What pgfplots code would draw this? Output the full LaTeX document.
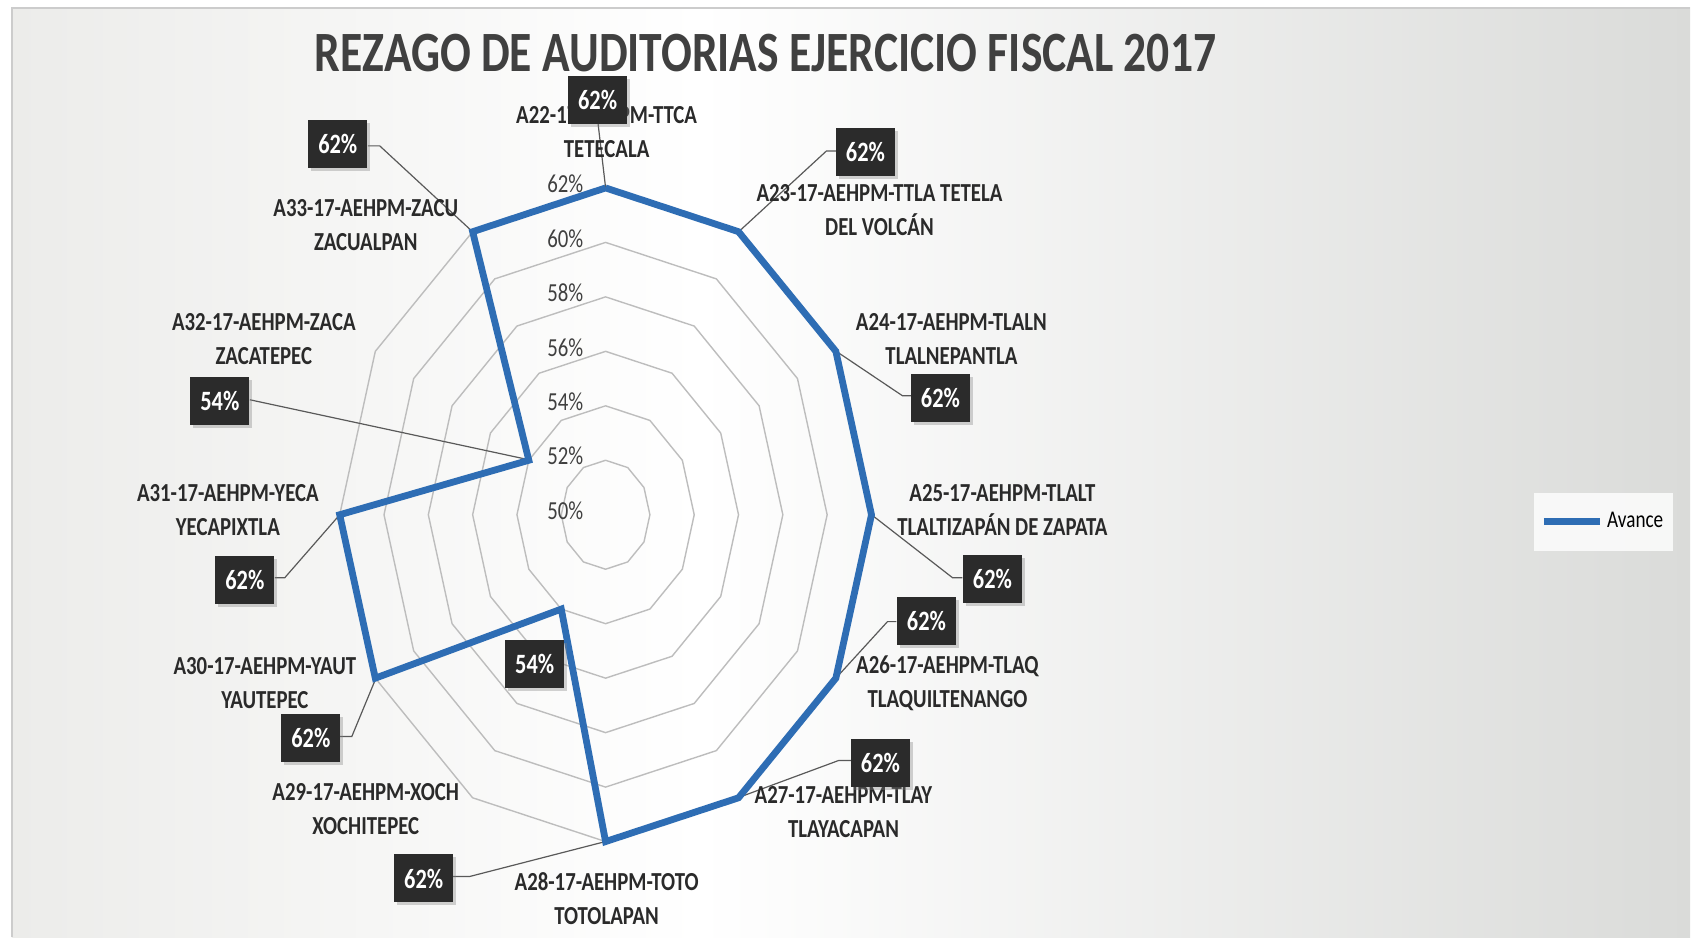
\documentclass[border=0pt]{standalone}
\usepackage{pgfplots}
\pgfplotsset{compat=1.18}
\usepackage{pgfplotstable}
\usepackage{fontspec}
\setmainfont{Carlito}[FakeStretch=0.80]
\usetikzlibrary{shadows}
\definecolor{avblue}{HTML}{2E6DB4}
\definecolor{boxc}{HTML}{2B2B2B}
\definecolor{gridc}{HTML}{BDBDBD}
\definecolor{tickc}{HTML}{404040}
\definecolor{labc}{HTML}{2A2A2A}
\definecolor{titc}{HTML}{404040}
\definecolor{bgl}{HTML}{ECECEA}
\definecolor{bgr}{HTML}{DADBD9}
\newcommand{\PX}[2]{(rel axis cs:{#1/1691},{1-#2/938})}
\tikzset{
  labnode/.style={align=center, text=labc, font=\bfseries\fontsize{13}{17}\selectfont},
  vbox/.style={fill=boxc, text=white, font=\bfseries\fontsize{14}{14}\selectfont,
    minimum width=29.5pt, minimum height=24pt, inner sep=0pt,
    drop shadow={opacity=0.35, shadow xshift=1.5pt, shadow yshift=-1.5pt}},
  lead/.style={draw=gray!70!black, line width=0.6pt},
}
\pgfplotstableread{
ang val
90 62
60 62
30 62
0 62
-30 62
-60 62
-90 62
-120 54
-150 62
-180 62
-210 54
-240 62
-270 62
}\avance
\begin{document}
\begin{tikzpicture}
\begin{axis}[
  scale only axis, width=845.5pt, height=469pt,
  xmin=-27.33, xmax=48.94, ymin=-15.52, ymax=18.90,
  axis lines=none, clip=false,
  legend style={at={(0.9077,0.4435)}, anchor=west, draw=none, fill=white, fill opacity=0.8, text opacity=1,
    font=\fontsize{12}{12}\selectfont, inner xsep=3pt, inner ysep=8pt},
  legend image code/.code={\draw[#1] (0pt,0pt) -- (28pt,0pt);},
]
% background
\fill[white] (rel axis cs:0,0) rectangle (rel axis cs:1,1);
\shade[left color=bgl, right color=white] \PX{12}{8} rectangle \PX{700}{938};
\shade[left color=white, right color=bgr] \PX{700}{8} rectangle \PX{1691}{938};
\draw[gray!40, line width=1pt] \PX{12}{938} -- \PX{12}{8} -- \PX{1691}{8};
% grid rings
\pgfplotsinvokeforeach{2,4,...,12}{
  \addplot[data cs=polar, color=gridc, line width=0.7pt, forget plot] table[x=ang, y expr=#1] {\avance};
}
% tick labels
\pgfplotsinvokeforeach{50,52,...,62}{
  \node[anchor=east, text=tickc, font=\fontsize{13}{13}\selectfont, inner sep=1pt] at (axis cs:-0.9,{#1-50+0.15}) {#1\%};
}
% leaders
\draw[lead] \PX{598}{120} -- \PX{606}{188};
\draw[lead] \PX{837}{151} -- \PX{827}{151} -- \PX{739}{232};
\draw[lead] \PX{836}{351} -- \PX{903}{396} -- \PX{912}{396};
\draw[lead] \PX{872}{515} -- \PX{953}{578} -- \PX{963}{578};
\draw[lead] \PX{897}{622} -- \PX{888}{622} -- \PX{836}{679};
\draw[lead] \PX{852}{761} -- \PX{839}{761} -- \PX{739}{798};
\draw[lead] \PX{453}{877} -- \PX{470}{877} -- \PX{606}{842};
\draw[lead] \PX{340}{737} -- \PX{352}{737} -- \PX{376}{679};
\draw[lead] \PX{275}{578} -- \PX{285}{578} -- \PX{340}{515};
\draw[lead] \PX{250}{400} -- \PX{529}{460};
\draw[lead] \PX{368}{146} -- \PX{380}{146} -- \PX{473}{232};
% category labels
\node[labnode] at \PX{607}{132.5} {A22-17-AEHPM-TTCA\\TETECALA};
\node[labnode] at \PX{880}{210.5} {A23-17-AEHPM-TTLA TETELA\\DEL VOLCÁN};
\node[labnode] at \PX{952}{339.5} {A24-17-AEHPM-TLALN\\TLALNEPANTLA};
\node[labnode] at \PX{1003}{510.5} {A25-17-AEHPM-TLALT\\TLALTIZAPÁN DE ZAPATA};
\node[labnode] at \PX{948}{684} {A26-17-AEHPM-TLAQ\\TLAQUILTENANGO};
\node[labnode] at \PX{844}{812.5} {A27-17-AEHPM-TLAY\\TLAYACAPAN};
\node[labnode] at \PX{607}{899.5} {A28-17-AEHPM-TOTO\\TOTOLAPAN};
\node[labnode] at \PX{366}{809.5} {A29-17-AEHPM-XOCH\\XOCHITEPEC};
\node[labnode] at \PX{265}{683.5} {A30-17-AEHPM-YAUT\\YAUTEPEC};
\node[labnode] at \PX{228}{510.5} {A31-17-AEHPM-YECA\\YECAPIXTLA};
\node[labnode] at \PX{264}{339} {A32-17-AEHPM-ZACA\\ZACATEPEC};
\node[labnode] at \PX{366}{225} {A33-17-AEHPM-ZACU\\ZACUALPAN};
% data series
\addplot[data cs=polar, color=avblue, line width=3.4pt, line join=miter] table[x=ang, y expr=\thisrow{val}-50] {\avance};
\addlegendentry{Avance}
% value boxes
\node[vbox] at \PX{598}{100} {62\%};
\node[vbox] at \PX{866}{152} {62\%};
\node[vbox] at \PX{941}{398} {62\%};
\node[vbox] at \PX{993}{579} {62\%};
\node[vbox] at \PX{927}{621} {62\%};
\node[vbox] at \PX{881}{763} {62\%};
\node[vbox] at \PX{424}{879} {62\%};
\node[vbox] at \PX{535}{664} {54\%};
\node[vbox] at \PX{311}{738} {62\%};
\node[vbox] at \PX{245}{580} {62\%};
\node[vbox] at \PX{220}{401} {54\%};
\node[vbox] at \PX{338}{144} {62\%};
% title
\node[text=titc, font=\bfseries\fontsize{28.5}{28.5}\selectfont] at \PX{766}{53} {REZAGO DE AUDITORIAS EJERCICIO FISCAL 2017};
\end{axis}
\end{tikzpicture}
\end{document}
